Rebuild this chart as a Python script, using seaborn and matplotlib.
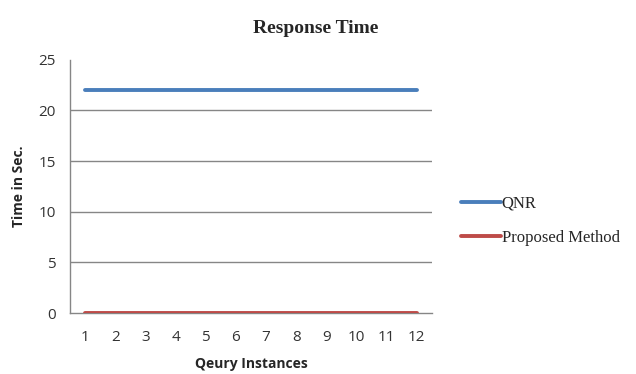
import matplotlib
matplotlib.use("Agg")
import matplotlib.pyplot as plt
import seaborn as sns
import pandas as pd
from matplotlib.ticker import FixedLocator, NullFormatter

instances = list(range(1, 13))
qnr = [22] * 12
proposed = [0] * 12
series_names = ["QNR", "Proposed Method"]
colors = ["#4A7EBB", "#BE4B48"]
y_ticks = [0, 5, 10, 15, 20, 25]

df = pd.DataFrame({
    "Instance": instances * 2,
    "Time": qnr + proposed,
    "Series": [series_names[0]] * 12 + [series_names[1]] * 12,
})

sns.set_style("white")
fig = plt.figure(figsize=(6.36, 3.74), dpi=100)
ax = fig.add_axes([0.110, 0.163, 0.569, 0.677])

sns.lineplot(data=df, x="Instance", y="Time", hue="Series", palette=colors,
             linewidth=2.8, ax=ax, legend=True, zorder=3)

ax.set_xlim(0.5, 12.5)
ax.set_ylim(0, 25)
ax.set_yticks(y_ticks)
ax.set_xticks(instances)
ax.xaxis.set_minor_locator(FixedLocator([i + 0.5 for i in range(0, 13)]))
ax.xaxis.set_minor_formatter(NullFormatter())
ax.tick_params(axis="x", which="major", length=0, pad=12)
ax.tick_params(axis="x", which="minor", length=5, color="#868686", width=1, direction="out")
ax.tick_params(axis="y", length=5, color="#868686", width=1, direction="out", pad=5)
for lab in ax.get_xticklabels() + ax.get_yticklabels():
    lab.set_fontfamily("Open Sans")
    lab.set_fontsize(11)
    lab.set_color("#333333")

for yv in y_ticks[1:-1]:
    ax.axhline(yv, color="#868686", linewidth=1, zorder=1)
for s in ["top", "right"]:
    ax.spines[s].set_visible(False)
for s in ["left", "bottom"]:
    ax.spines[s].set_color("#868686")
    ax.spines[s].set_linewidth(1)

ax.set_xlabel("Qeury Instances", fontfamily="Open Sans", fontweight="bold", fontsize=10, labelpad=9)
ax.set_ylabel("Time in Sec.", fontfamily="Open Sans", fontweight="bold", fontsize=10, labelpad=9)
fig.text(0.497, 0.925, "Response Time", ha="center", va="center",
         fontfamily="Liberation Serif", fontweight="bold", fontsize=14)

leg = ax.legend(loc="center left", bbox_to_anchor=(0.701, 0.41), bbox_transform=fig.transFigure,
                frameon=False, handlelength=2.4, handletextpad=0.05, labelspacing=1.1,
                prop={"family": "Liberation Serif", "size": 12})
for line in leg.get_lines():
    line.set_linewidth(2.8)

fig.savefig("out.png", dpi=100)
